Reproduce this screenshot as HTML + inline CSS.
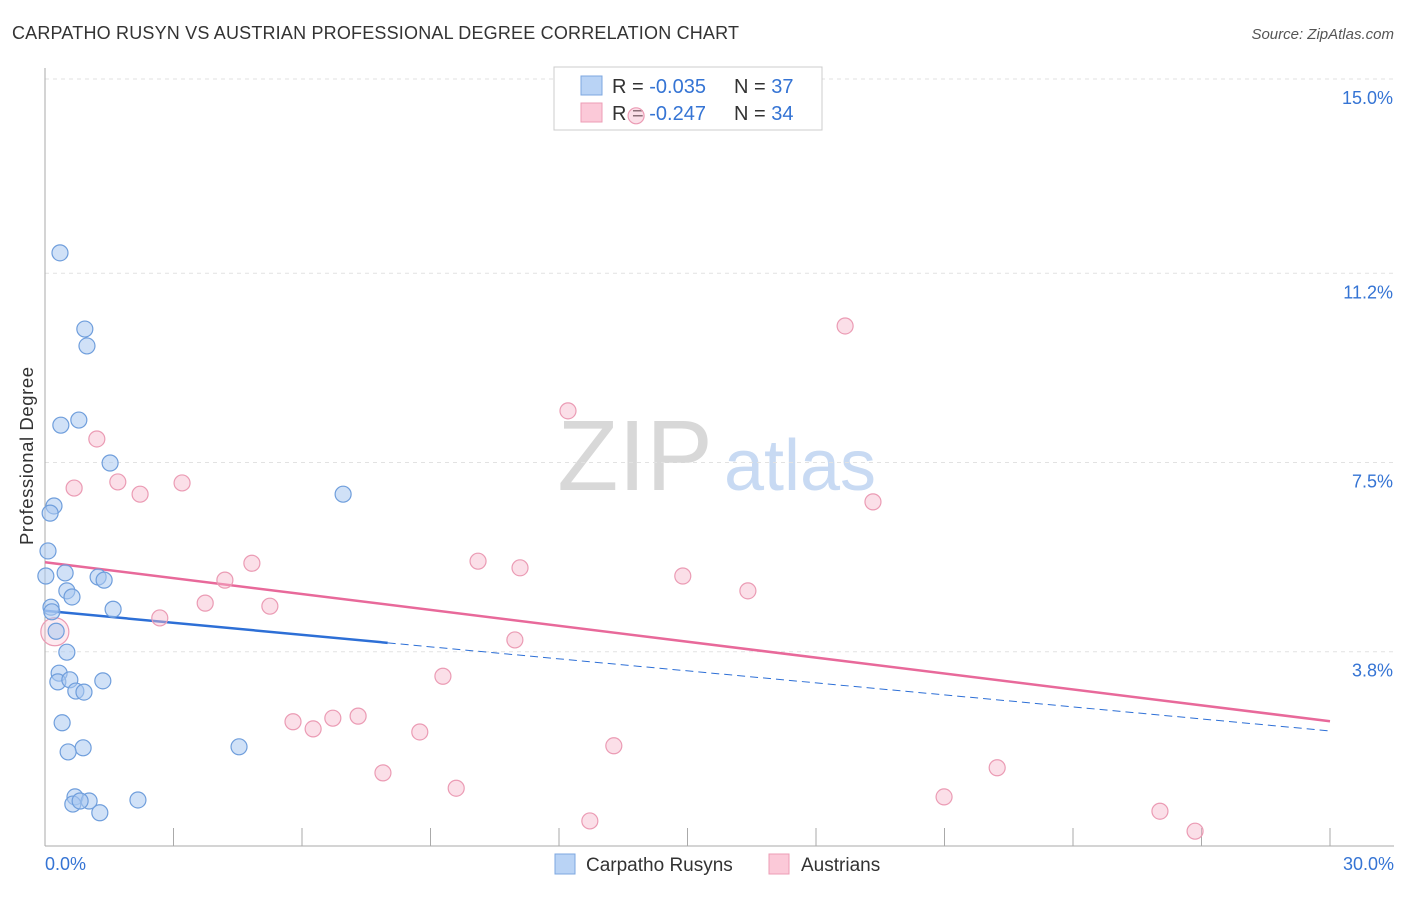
<!DOCTYPE html>
<html><head><meta charset="utf-8"><style>
body{margin:0;background:#fff;font-family:"Liberation Sans",sans-serif;}
svg text{font-family:"Liberation Sans",sans-serif;}
</style></head><body>
<svg id="chart" width="1406" height="892" xmlns="http://www.w3.org/2000/svg">
<text x="12" y="39" font-size="18" fill="#333" textLength="727">CARPATHO RUSYN VS AUSTRIAN PROFESSIONAL DEGREE CORRELATION CHART</text>
<text x="1394" y="39" font-size="15" fill="#555" text-anchor="end" font-style="italic">Source: ZipAtlas.com</text>
<text x="33" y="456" font-size="18.5" fill="#333" text-anchor="middle" transform="rotate(-90 33 456)" textLength="178">Professional Degree</text>
<g>
<text x="635" y="490" font-size="100" fill="#d8d8d8" text-anchor="middle" font-family="Liberation Serif,serif">ZIP</text>
<text x="800" y="490" font-size="72" fill="#c8daf3" text-anchor="middle">atlas</text>
</g>
<g id="grid"></g><g id="axes"></g><g id="trends"></g>
<g>
<rect x="554" y="67" width="268" height="63" fill="#fff" stroke="#ccc"/>
<rect x="581" y="76" width="21" height="19" fill="#b9d3f5" stroke="#7da7e0"/>
<rect x="581" y="103" width="21" height="19" fill="#fbc9d8" stroke="#ec9db6"/>
<text x="612" y="93" font-size="20" fill="#333">R = <tspan fill="#3574d4">-0.035</tspan></text>
<text x="734" y="93" font-size="20" fill="#333">N = <tspan fill="#3574d4">37</tspan></text>
<text x="612" y="120" font-size="20" fill="#333">R = <tspan fill="#3574d4">-0.247</tspan></text>
<text x="734" y="120" font-size="20" fill="#333">N = <tspan fill="#3574d4">34</tspan></text>
</g>
<g id="points"></g>
<g>
<rect x="555" y="854" width="20" height="20" fill="#b9d3f5" stroke="#7da7e0"/>
<text x="586" y="871" font-size="19" fill="#333">Carpatho Rusyns</text>
<rect x="769" y="854" width="20" height="20" fill="#fbc9d8" stroke="#ec9db6"/>
<text x="801" y="871" font-size="19" fill="#333">Austrians</text>
</g>
</svg>
<script>
const yTicks=[3.8,7.5,11.2,15.0];
const yTickLabels=["3.8%","7.5%","11.2%","15.0%"];
const xTickLabels=["0.0%","30.0%"];
const blueX=[0.35,0.93,0.98,0.79,0.37,1.52,0.21,0.12,6.96,0.07,0.02,0.47,1.24,1.38,0.51,0.63,0.14,0.16,1.59,0.26,0.51,0.33,0.30,0.58,0.72,0.91,1.35,0.40,0.89,0.54,4.53,0.70,0.65,1.03,0.82,2.17,1.28];
const blueY=[11.60,10.11,9.78,8.33,8.23,7.49,6.65,6.51,6.88,5.77,5.28,5.34,5.26,5.20,4.99,4.87,4.67,4.58,4.63,4.20,3.79,3.38,3.21,3.25,3.03,3.01,3.23,2.41,1.92,1.84,1.94,0.96,0.82,0.88,0.88,0.90,0.65];
const pinkX=[13.80,18.68,12.21,1.21,0.68,1.70,2.22,3.20,19.33,4.83,10.11,11.09,4.20,14.89,16.41,3.74,5.25,2.68,10.97,0.23,9.29,5.79,6.26,6.72,7.31,8.75,13.28,7.89,9.60,22.23,20.99,12.72,26.03,26.85];
const pinkY=[14.28,10.17,8.51,7.96,7.00,7.12,6.88,7.10,6.73,5.53,5.57,5.44,5.20,5.28,4.99,4.75,4.69,4.46,4.03,4.19,3.32,2.43,2.29,2.50,2.54,2.23,1.96,1.43,1.13,1.53,0.96,0.49,0.68,0.29];
const blueTrend=[4.60,2.25];
const pinkTrend=[5.55,2.44];
const blueSolidEnd=8.0;
const NS="http://www.w3.org/2000/svg";
const X=v=>45+v/30*1285, Y=v=>846-v/15*767;
function mk(p,t,a){const e=document.createElementNS(NS,t);for(const k in a)e.setAttribute(k,a[k]);document.getElementById(p).appendChild(e);return e;}
yTicks.forEach((t,i)=>{
 const l=mk('grid','line',{x1:45,x2:1394,y1:Y(t),y2:Y(t),stroke:'#e2e2e2','stroke-dasharray':'4,4'});
 
 
 const tx=mk('grid','text',{x:1393,y:Y(t)+25,'font-size':18,fill:'#3574d4','text-anchor':'end'});
 tx.textContent=yTickLabels[i];
 
 
});
const ax=mk('axes','line',{x1:45,x2:45,y1:68,y2:846,stroke:'#aaa'});


const bx=mk('axes','line',{x1:45,x2:1394,y1:846,y2:846,stroke:'#aaa'});


for(let i=0;i<=10;i++){const t=mk('axes','line',{x1:X(i*3),x2:X(i*3),y1:828,y2:846,stroke:'#aaa'});
 
 }
[[0,'start',45],[30,'end',1394]].forEach((d,i)=>{const t=mk('axes','text',{x:d[2],y:870,'font-size':18,fill:'#3574d4','text-anchor':d[1]});t.textContent=xTickLabels[i];
 
 });
const yb=x=>blueTrend[0]+(blueTrend[1]-blueTrend[0])*x/30;
let t1=mk('trends','line',{x1:X(0),y1:Y(yb(0)),x2:X(blueSolidEnd),y2:Y(yb(blueSolidEnd)),stroke:'#2d6fd6','stroke-width':2.5});


let t2=mk('trends','line',{x1:X(blueSolidEnd),y1:Y(yb(blueSolidEnd)),x2:X(30),y2:Y(yb(30)),stroke:'#2d6fd6','stroke-width':1,'stroke-dasharray':'8,5'});


let t3=mk('trends','line',{x1:X(0),y1:Y(pinkTrend[0]),x2:X(30),y2:Y(pinkTrend[1]),stroke:'#e8699a','stroke-width':2.5});


pinkX.forEach((x,i)=>{const c=mk('points','circle',{cx:X(x),cy:Y(pinkY[i]),r:(i==19?14:8),fill:'#f7b9cc','fill-opacity':(i==19?0.3:0.45),stroke:'#eb9bb4','stroke-width':1.2});
 
 });
blueX.forEach((x,i)=>{const c=mk('points','circle',{cx:X(x),cy:Y(blueY[i]),r:8,fill:'#a9c8f0','fill-opacity':0.55,stroke:'#6f9edc','stroke-width':1.2});
 
 });
</script>
</body></html>
